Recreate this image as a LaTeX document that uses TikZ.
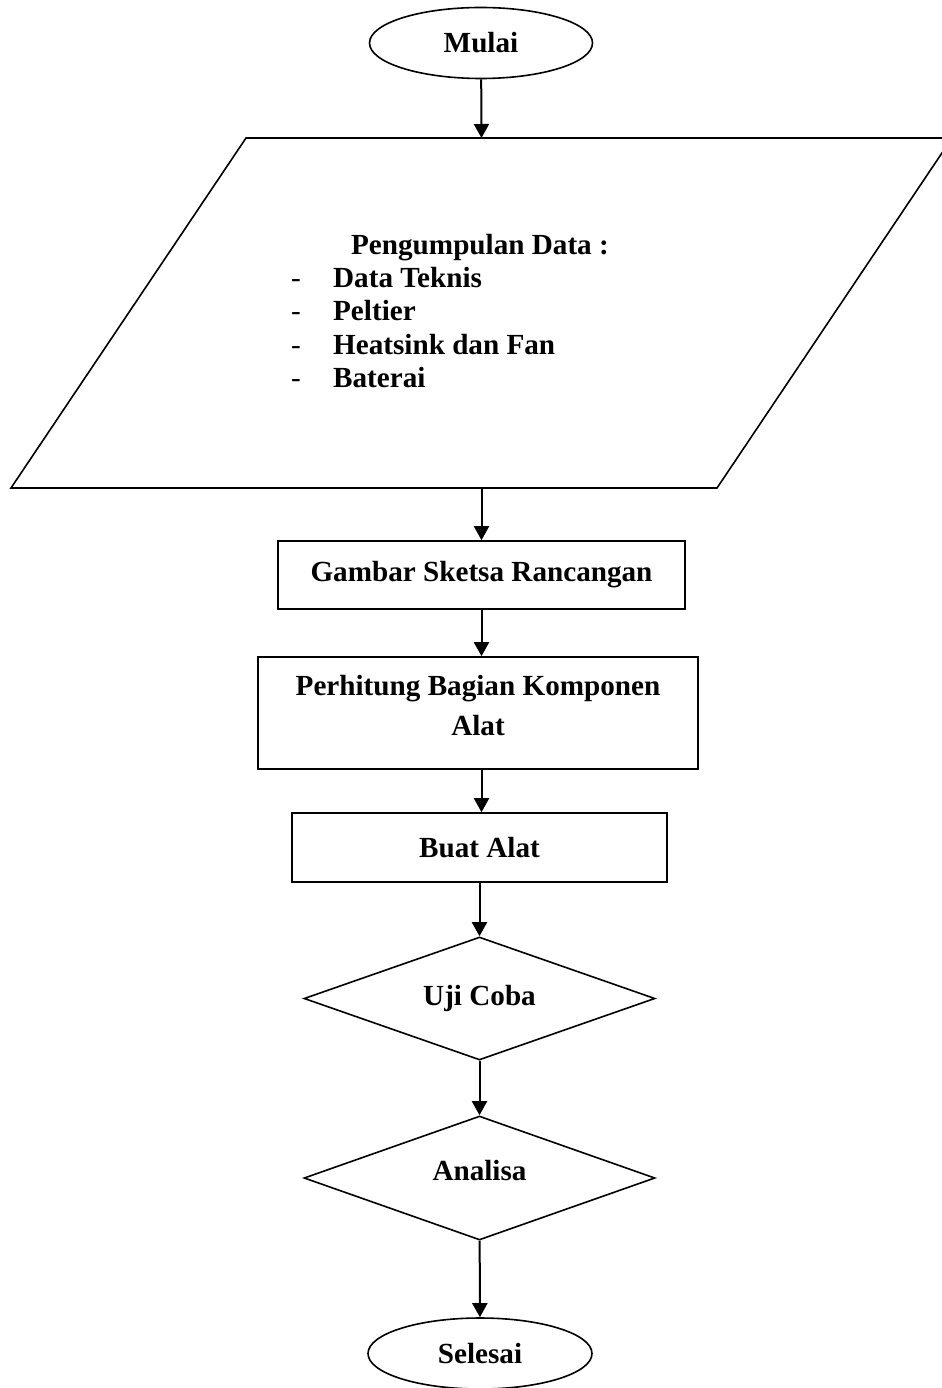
\documentclass[tikz,border=0pt]{standalone}
\usepackage{fontspec}
\setmainfont{Liberation Serif}
\usetikzlibrary{arrows.meta,shapes.geometric,positioning}

\newlength\pix
\setlength\pix{0.02cm}

\begin{document}
\begin{tikzpicture}[x=0.02cm, y=-0.02cm, >={Triangle[length=0.28cm,width=0.3cm]},
  font=\bfseries\fontsize{16.6}{19}\selectfont,
  bentuk/.style={draw, line width=1.6\pix, inner sep=0pt},
  panah/.style={->, line width=2\pix}]
  % batas gambar
  \useasboundingbox (0,0) rectangle (941,1388);

  % mulai dan data
  \node[bentuk, ellipse, minimum width=223\pix, minimum height=71\pix] (mulai) at (481,43) {Mulai};
  \draw[line width=1.6\pix] (11,488) -- (717,488) -- (952,138) -- (246,138) -- cycle;
  \coordinate (dataatas) at (481.5,138);
  \coordinate (databawah) at (481.5,488);
  \node[align=left, inner sep=0pt] (data) at (450,311)
    {\hspace*{60\pix}Pengumpulan Data :\\
     \makebox[42\pix][l]{\mdseries -}Data Teknis\\
     \makebox[42\pix][l]{\mdseries -}Peltier\\
     \makebox[42\pix][l]{\mdseries -}Heatsink dan Fan\\
     \makebox[42\pix][l]{\mdseries -}Baterai};

  % proses
  \node[bentuk, rectangle, minimum width=407\pix, minimum height=68\pix] (sketsa) at (481.5,575) {Gambar Sketsa Rancangan};
  \node[bentuk, rectangle, minimum width=440\pix, minimum height=112\pix, align=center,
        font=\bfseries\fontsize{16.6}{22.7}\selectfont] (hitung) at (478,713)
        {Perhitung Bagian Komponen\\Alat\rule[-16\pix]{0pt}{0pt}};
  \node[bentuk, rectangle, minimum width=375\pix, minimum height=69\pix] (buat) at (479.5,847.5) {Buat Alat};

  % uji dan analisa
  \node[bentuk, diamond, aspect=2.85, minimum width=351\pix, minimum height=123\pix] (uji) at (479.5,998.5) {Uji Coba};
  \node[bentuk, diamond, aspect=2.85, minimum width=351\pix, minimum height=124\pix] (analisa) at (479.5,1178)
        {Analisa\rule[-16\pix]{0pt}{0pt}};
  \node[bentuk, ellipse, minimum width=224\pix, minimum height=71\pix] (selesai) at (480,1353.5) {Selesai};

  % panah
  \draw[panah] (mulai) -- (dataatas);
  \draw[panah] (databawah) -- (sketsa);
  \draw[panah] (sketsa) -- (hitung.north -| sketsa);
  \draw[panah] (hitung.south -| sketsa) -- (buat.north -| sketsa);
  \draw[panah] (buat.south -| uji) -- (uji);
  \draw[panah] (uji) -- (analisa);
  \draw[panah] (analisa) -- (selesai);
\end{tikzpicture}
\end{document}
